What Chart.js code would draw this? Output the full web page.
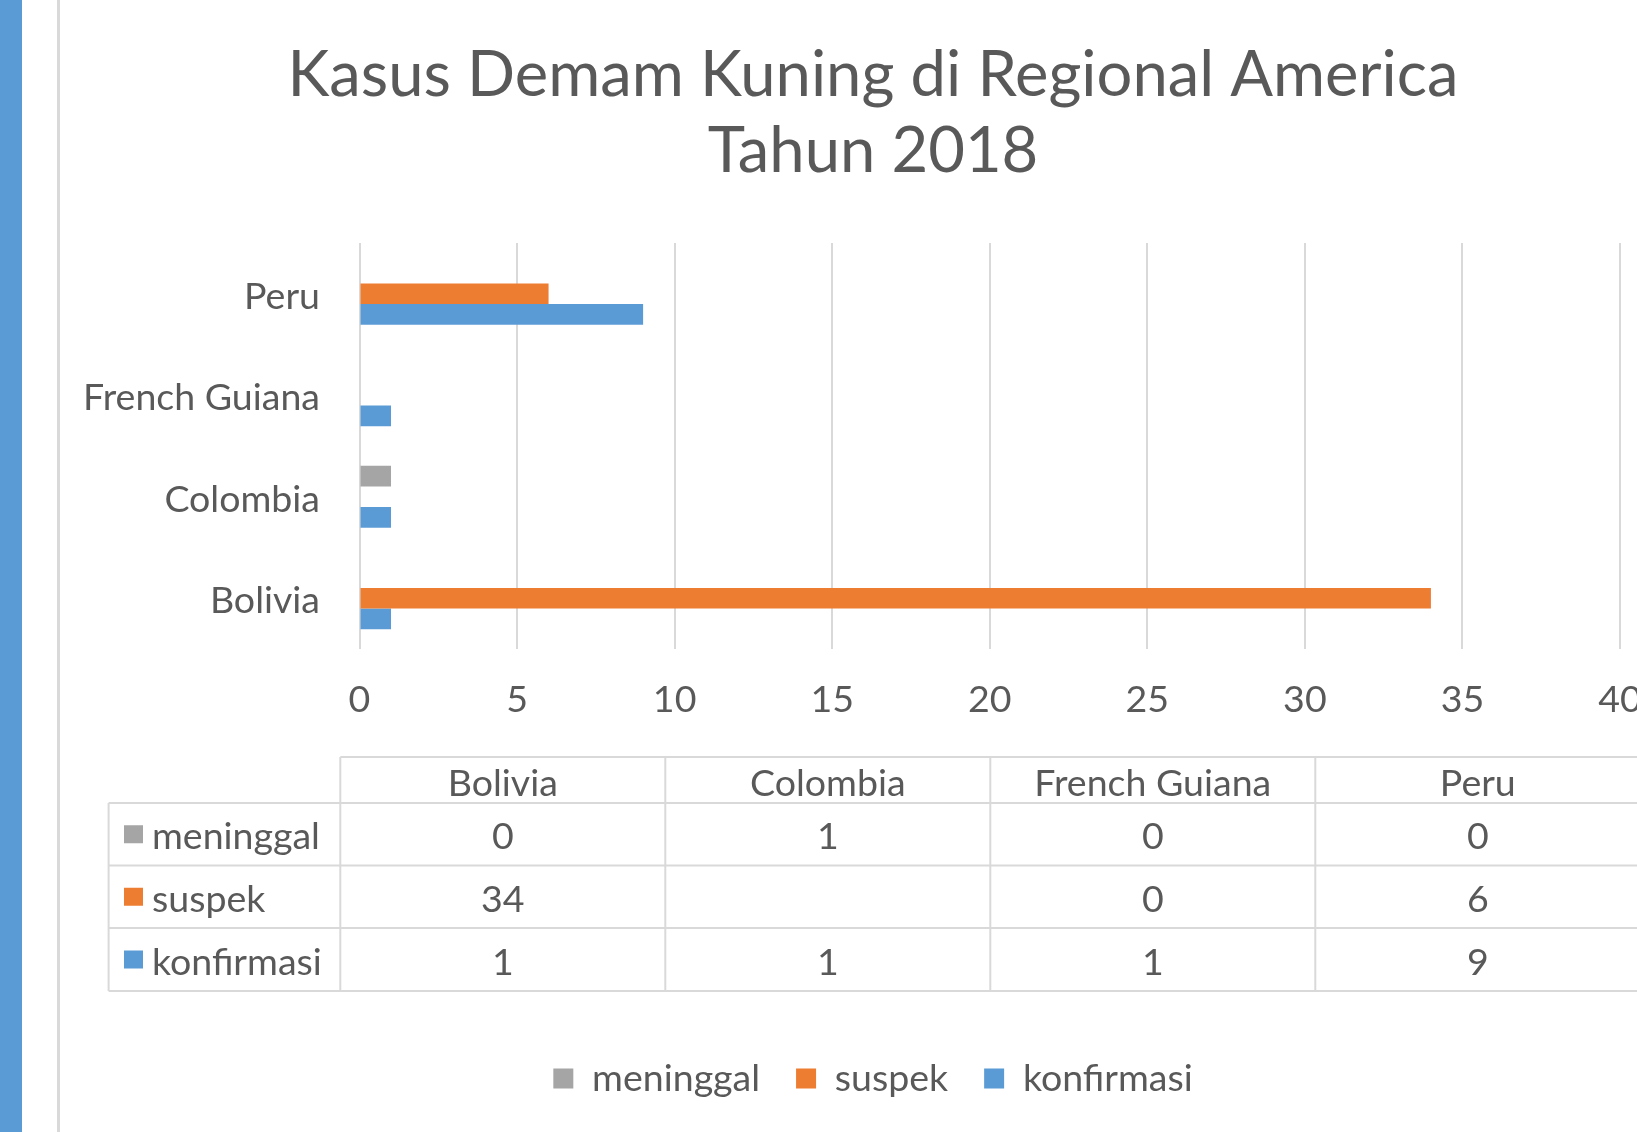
<!DOCTYPE html>
<html>
<head>
<meta charset="utf-8">
<script src="https://cdn.jsdelivr.net/npm/chart.js@4.4.1/dist/chart.umd.min.js"></script>
<style>
  html, body { margin: 0; padding: 0; background: #ffffff; overflow: hidden; width: 1637px; height: 1132px; }
  #wrap { position: relative; width: 1637px; height: 1132px; overflow: hidden; background: #ffffff; }
  #c { position: absolute; left: 0; top: 0; }
  #strip { position: absolute; left: 0; top: 0; width: 22px; height: 1132px; background: #5B9BD5; }
  #rule { position: absolute; left: 57px; top: 0; width: 3px; height: 1132px; background: #D9D9D9; }
</style>
</head>
<body>
<div id="wrap">
  <canvas id="c" width="1746" height="1132"></canvas>
  <div id="strip"></div>
  <div id="rule"></div>
</div>
<script>
// ---------- data ----------
const titleLines = ['Kasus Demam Kuning di Regional America', 'Tahun 2018'];
const countries = ['Bolivia', 'Colombia', 'French Guiana', 'Peru'];
const seriesNames = ['meninggal', 'suspek', 'konfirmasi'];
const meninggal = [0, 1, 0, 0];
const suspek = [34, null, 0, 6];
const konfirmasi = [1, 1, 1, 9];
const xTickValues = [0, 5, 10, 15, 20, 25, 30, 35, 40];
const seriesColors = ['#A5A5A5', '#ED7D31', '#5B9BD5'];

// ---------- style / layout ----------
const FAMILY = "Lato, Carlito, 'Open Sans', sans-serif";
const TEXT = '#595959';
const GRID = '#D9D9D9';
function fitSize(text, target) {
  const ctx = document.createElement('canvas').getContext('2d');
  ctx.font = '100px ' + FAMILY;
  return target / ctx.measureText(text).width * 100;
}
const F = fitSize('French Guiana', 237);
const T = fitSize(titleLines[0], 1171);
const CANVAS_W = 1746;
const PLOT_LEFT = 359.5, PLOT_TOP = 243, PLOT_BOTTOM = 649, PLOT_RIGHT = 1620;
const RIGHT_GAP = CANVAS_W - PLOT_RIGHT;
const LEG_PAD = 36;
const PB = 43.5 - F / 2;
const TITLE_TOP = 38;

const tablePlugin = {
  id: 'dataTable',
  afterDraw(chart) {
    const ctx = chart.ctx;
    const L = 108.6, C0 = 340.3, CW = 325, R = chart.width;
    const rows = [757, 803, 865.5, 928, 991];
    const seriesData = [meninggal, suspek, konfirmasi];
    ctx.save();
    ctx.strokeStyle = GRID;
    ctx.lineWidth = 2;
    const line = (x1, y1, x2, y2) => { ctx.beginPath(); ctx.moveTo(x1, y1); ctx.lineTo(x2, y2); ctx.stroke(); };
    line(C0, rows[0], R, rows[0]);
    for (let i = 1; i < rows.length; i++) line(L, rows[i], R, rows[i]);
    line(L, rows[1], L, rows[4]);
    for (let k = 0; k <= countries.length; k++) line(C0 + k * CW, rows[0], C0 + k * CW, rows[4]);
    ctx.font = F + 'px ' + FAMILY;
    ctx.fillStyle = TEXT;
    ctx.textBaseline = 'middle';
    ctx.textAlign = 'center';
    countries.forEach((c, k) => ctx.fillText(c, C0 + k * CW + CW / 2, (rows[0] + rows[1]) / 2 + 4));
    seriesData.forEach((arr, r) => {
      const y = (rows[r + 1] + rows[r + 2]) / 2 + 3;
      ctx.fillStyle = seriesColors[r];
      ctx.fillRect(124, y - 12, 19, 18);
      ctx.fillStyle = TEXT;
      ctx.textAlign = 'left';
      ctx.fillText(seriesNames[r], 152, y);
      ctx.textAlign = 'center';
      arr.forEach((v, k) => {
        if (v !== null && v !== undefined) ctx.fillText(String(v), C0 + k * CW + CW / 2, y);
      });
    });
    ctx.restore();
  }
};

Chart.defaults.font.family = FAMILY;
Chart.defaults.color = TEXT;

new Chart(document.getElementById('c'), {
  type: 'bar',
  data: {
    labels: countries,
    datasets: [
      { label: seriesNames[0], data: meninggal, backgroundColor: seriesColors[0], xAxisID: 'x', yAxisID: 'y' },
      { label: seriesNames[1], data: suspek, backgroundColor: seriesColors[1], xAxisID: 'x', yAxisID: 'y' },
      { label: seriesNames[2], data: konfirmasi, backgroundColor: seriesColors[2], xAxisID: 'x', yAxisID: 'y' }
    ]
  },
  options: {
    indexAxis: 'y',
    responsive: false,
    devicePixelRatio: 1,
    animation: false,
    datasets: { bar: { barPercentage: 1.0, categoryPercentage: 0.61, borderWidth: 0 } },
    layout: { padding: { left: 0, top: 0, right: 0, bottom: PB } },
    scales: {
      x: {
        type: 'linear',
        position: 'bottom',
        min: 0, max: 40,
        afterBuildTicks(scale) { scale.ticks = xTickValues.map(v => ({ value: v })); },
        afterFit(scale) {
          const legH = scale.chart.legend ? scale.chart.legend.height : 0;
          scale.height = scale.chart.height - PB - legH - PLOT_BOTTOM;
        },
        grid: { color: GRID, lineWidth: 2, drawTicks: false },
        border: { display: false },
        ticks: { color: TEXT, font: { size: F, family: FAMILY }, padding: 50.5 - 0.6 * F, maxRotation: 0 }
      },
      y: {
        type: 'category',
        reverse: true,
        afterFit(scale) { scale.width = PLOT_LEFT; },
        grid: { display: false, drawTicks: false },
        border: { display: false },
        ticks: { color: TEXT, font: { size: F, family: FAMILY }, padding: 39.5, labelOffset: 3 }
      },
      ySpacer: {
        type: 'category',
        axis: 'y',
        position: 'right',
        afterFit(scale) { scale.width = RIGHT_GAP; },
        grid: { display: false, drawTicks: false },
        border: { display: false },
        ticks: { display: false }
      }
    },
    plugins: {
      tooltip: { enabled: false },
      title: {
        display: true,
        text: titleLines,
        color: TEXT,
        font: { family: FAMILY, size: T, weight: 'normal', lineHeight: 76 / T },
        padding: { top: TITLE_TOP, bottom: PLOT_TOP - TITLE_TOP - 152 }
      },
      legend: {
        display: true,
        position: 'bottom',
        labels: {
          color: TEXT,
          font: { family: FAMILY, size: F },
          boxWidth: 20,
          boxHeight: 20,
          padding: LEG_PAD
        }
      }
    }
  },
  plugins: [tablePlugin]
});
</script>
</body>
</html>
